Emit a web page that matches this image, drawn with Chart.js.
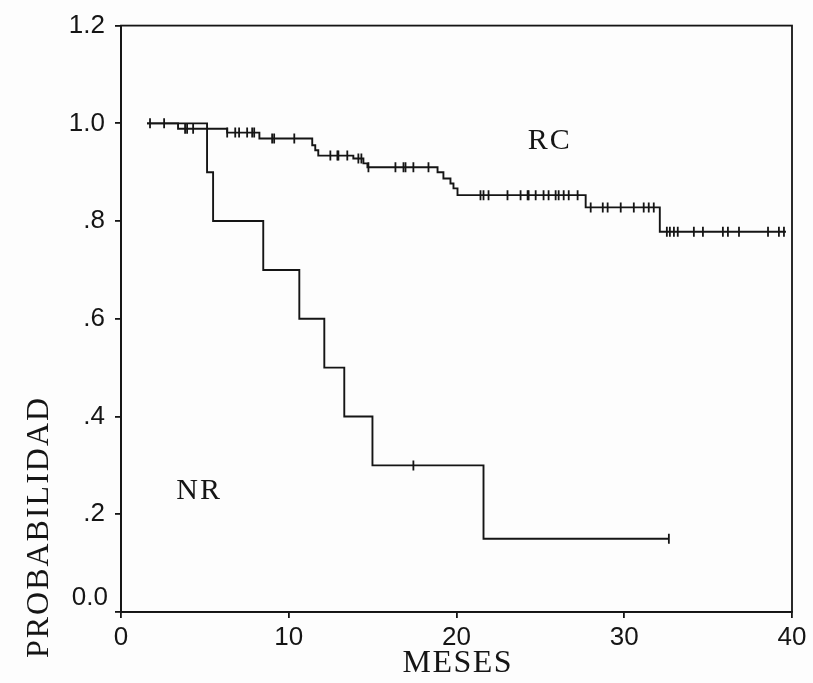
<!DOCTYPE html>
<html>
<head>
<meta charset="utf-8">
<script src="https://cdn.jsdelivr.net/npm/chart.js@4"></script>
<style>
  html, body { margin: 0; padding: 0; background: #fdfdfd; }
  #wrap { width: 813px; height: 683px; }
</style>
</head>
<body>
<div id="wrap"><canvas id="c" width="813" height="683"></canvas></div>
<script>
// ---- Data ----
const xTicks = [0, 10, 20, 30, 40];
const yTickLabels = ['0.0', '.2', '.4', '.6', '.8', '1.0', '1.2'];

// RC group: event times (months) and survival after each step
const rcTimes = [1.55, 3.40, 6.33, 8.25, 11.40, 11.58, 11.76, 13.85, 14.45, 14.69, 18.87, 19.22, 19.64, 19.82, 20.06, 27.70, 32.12, 39.64];
const rcSurv  = [1.000, 0.989, 0.981, 0.969, 0.955, 0.945, 0.934, 0.928, 0.918, 0.910, 0.900, 0.887, 0.877, 0.867, 0.853, 0.828, 0.778, 0.778];
const rcCensor = [1.73, 2.57, 3.82, 3.94, 4.30, 6.33, 6.81, 7.04, 7.52, 7.82, 7.94, 9.01, 9.13, 10.33,
  12.48, 12.90, 12.96, 13.49, 14.15, 14.33, 14.75, 16.36, 16.84, 16.96, 17.43, 18.33,
  21.43, 21.61, 21.91, 23.04, 23.82, 24.24, 24.30, 24.72, 25.19, 25.49, 25.91, 26.09, 26.39, 26.69, 27.22,
  28.00, 28.72, 29.01, 29.79, 30.57, 31.16, 31.46, 31.76,
  32.54, 32.72, 32.96, 33.19, 34.15, 34.69, 35.88, 36.18, 36.84, 38.57, 39.22, 39.52];

// NR group
const nrTimes = [1.55, 5.13, 5.49, 8.48, 10.63, 12.12, 13.31, 14.99, 21.61, 32.66];
const nrSurv  = [1.0, 0.9, 0.8, 0.7, 0.6, 0.5, 0.4, 0.3, 0.15, 0.15];
const nrCensor = [17.43, 32.66];

// ---- helpers ----
function stepValue(times, surv, t) {
  let v = surv[0];
  for (let i = 0; i < times.length; i++) { if (times[i] <= t) v = surv[i]; }
  return v;
}
const toPts = (times, surv) => times.map((t, i) => ({ x: t, y: surv[i] }));
const censorPts = (c, times, surv) => c.map(t => ({ x: t, y: stepValue(times, surv, t) }));

const INK = '#151515';
const TICK_FONT = { family: "'Liberation Sans', Arial, sans-serif", size: 26 };
const TYPE = "'Liberation Serif', 'Times New Roman', serif";

function spacedText(ctx, text, x, y, spacing) {
  // draws centred text with extra letter spacing (typewriter look)
  const widths = [...text].map(ch => ctx.measureText(ch).width);
  const total = widths.reduce((a, b) => a + b, 0) + spacing * (text.length - 1);
  let cx = x - total / 2;
  ctx.textAlign = 'left';
  [...text].forEach((ch, i) => { ctx.fillText(ch, cx, y); cx += widths[i] + spacing; });
}

const framePlugin = {
  id: 'frame',
  beforeDraw(chart) {
    const ctx = chart.ctx;
    ctx.save();
    ctx.fillStyle = '#fdfdfd';
    ctx.fillRect(0, 0, chart.width, chart.height);
    ctx.restore();
  },
  afterDraw(chart) {
    const { ctx, chartArea: a, scales } = chart;
    ctx.save();
    ctx.strokeStyle = INK;
    ctx.lineWidth = 1.8;
    ctx.strokeRect(a.left, a.top, a.right - a.left, a.bottom - a.top);
    // "0.0" label sits slightly above its tick in the original
    ctx.fillStyle = INK;
    ctx.font = `${TICK_FONT.size}px ${TICK_FONT.family}`;
    ctx.textAlign = 'right';
    ctx.textBaseline = 'middle';
    ctx.fillText(yTickLabels[0], a.left - 13, scales.y.getPixelForValue(0) - 14);
    // group labels
    ctx.font = `30px ${TYPE}`;
    spacedText(ctx, 'RC', scales.x.getPixelForValue(25.5), scales.y.getPixelForValue(0.964), 2);
    spacedText(ctx, 'NR', scales.x.getPixelForValue(4.6), scales.y.getPixelForValue(0.248), 2);
    // axis titles
    ctx.font = `32px ${TYPE}`;
    spacedText(ctx, 'MESES', 457, 664, 1.5);
    ctx.translate(40, 528);
    ctx.rotate(-Math.PI / 2);
    spacedText(ctx, 'PROBABILIDAD', 0, 0, 2);
    ctx.restore();
  }
};

const lineDs = (label, data) => ({
  type: 'line', label, data, stepped: 'before',
  borderColor: INK, borderWidth: 1.9, pointRadius: 0, fill: false, tension: 0
});
const censorDs = (label, data) => ({
  type: 'scatter', label, data,
  pointStyle: 'line', rotation: 90, pointRadius: 5, pointHoverRadius: 5,
  borderColor: INK, pointBorderColor: INK, pointBorderWidth: 1.8, backgroundColor: INK
});

new Chart(document.getElementById('c'), {
  data: {
    datasets: [
      lineDs('RC', toPts(rcTimes, rcSurv)),
      lineDs('NR', toPts(nrTimes, nrSurv)),
      censorDs('RC censurados', censorPts(rcCensor, rcTimes, rcSurv)),
      censorDs('NR censurados', censorPts(nrCensor, nrTimes, nrSurv))
    ]
  },
  options: {
    responsive: false,
    animation: false,
    layout: { padding: { top: 21, right: 21, left: 0, bottom: 0 } },
    plugins: { legend: { display: false }, tooltip: { enabled: false } },
    scales: {
      x: {
        type: 'linear', min: 0, max: 40,
        afterBuildTicks: s => { s.ticks = xTicks.map(v => ({ value: v })); },
        afterFit: s => { s.height = 71; },
        grid: { display: true, drawOnChartArea: false, drawTicks: true, tickLength: 6, color: INK, lineWidth: 1.8 },
        border: { display: true, color: INK, width: 1.8 },
        ticks: { color: INK, font: TICK_FONT, padding: 4, maxRotation: 0, callback: v => String(v) }
      },
      y: {
        type: 'linear', min: 0, max: 1.2,
        afterBuildTicks: s => { s.ticks = yTickLabels.map((l, i) => ({ value: i * 0.2 })); },
        afterFit: s => { s.width = 121; },
        grid: { display: true, drawOnChartArea: false, drawTicks: true, tickLength: 6, color: INK, lineWidth: 1.8 },
        border: { display: true, color: INK, width: 1.8 },
        ticks: {
          color: INK, font: TICK_FONT, padding: 10,
          callback: (v, i) => (i === 0 ? '' : yTickLabels[i])
        }
      }
    }
  },
  plugins: [framePlugin]
});
</script>
</body>
</html>
